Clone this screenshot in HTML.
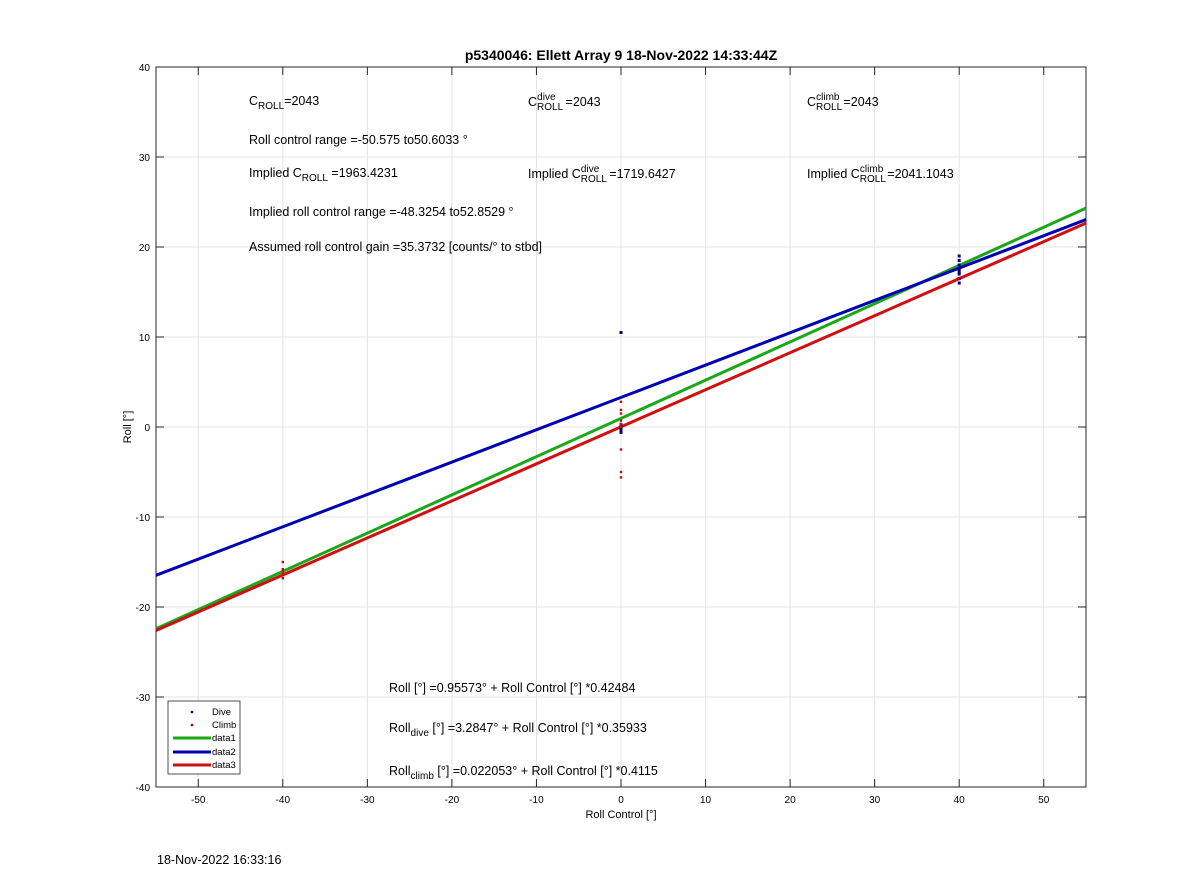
<!DOCTYPE html>
<html><head><meta charset="utf-8"><style>
body{margin:0;background:#fff;}
svg{display:block;font-family:"Liberation Sans",Arial,sans-serif;}
</style></head><body>
<svg id="c" width="1200" height="885" viewBox="0 0 1200 885">
<rect x="0" y="0" width="1200" height="885" fill="#fff"/>
<g id="grid"></g>
<rect x="156" y="67" width="930" height="720" fill="none" stroke="#262626" stroke-width="1"/>
<g id="ticks"></g>
<g id="marks"></g>
<text x="621" y="60" text-anchor="middle" font-size="14" font-weight="bold">p5340046: Ellett Array 9 18-Nov-2022 14:33:44Z</text>
<text x="621" y="818" text-anchor="middle" font-size="11">Roll Control [°]</text>
<text transform="translate(131,427) rotate(-90)" text-anchor="middle" font-size="11">Roll [°]</text>
<g font-size="12.5">
<text x="249" y="105">C<tspan font-size="10" dy="4">ROLL</tspan><tspan dy="-4">=2043</tspan></text>
<text x="528" y="106">C<tspan font-size="10" dy="4">ROLL</tspan><tspan font-size="10" dx="-26" dy="-10">dive</tspan><tspan dx="10" dy="6">=2043</tspan></text>
<text x="807" y="106">C<tspan font-size="10" dy="4">ROLL</tspan><tspan font-size="10" dx="-26" dy="-10">climb</tspan><tspan dx="4" dy="6">=2043</tspan></text>
<text x="249" y="144">Roll control range =-50.575 to50.6033 °</text>
<text x="249" y="177">Implied C<tspan font-size="10" dy="4">ROLL</tspan><tspan dy="-4"> =1963.4231</tspan></text>
<text x="528" y="178">Implied C<tspan font-size="10" dy="4">ROLL</tspan><tspan font-size="10" dx="-26" dy="-10">dive</tspan><tspan dx="10" dy="6">=1719.6427</tspan></text>
<text x="807" y="178">Implied C<tspan font-size="10" dy="4">ROLL</tspan><tspan font-size="10" dx="-26" dy="-10">climb</tspan><tspan dx="4" dy="6">=2041.1043</tspan></text>
<text x="249" y="216">Implied roll control range =-48.3254 to52.8529 °</text>
<text x="249" y="251">Assumed roll control gain =35.3732 [counts/° to stbd]</text>
<text x="389" y="692">Roll [°] =0.95573° + Roll Control [°] *0.42484</text>
<text x="389" y="732">Roll<tspan font-size="10" dy="4">dive</tspan><tspan dy="-4"> [°] =3.2847° + Roll Control [°] *0.35933</tspan></text>
<text x="389" y="775">Roll<tspan font-size="10" dy="4">climb</tspan><tspan dy="-4"> [°] =0.022053° + Roll Control [°] *0.4115</tspan></text>
</g>
<g>
<rect x="168" y="701" width="72" height="73" fill="#fff" stroke="#262626" stroke-width="0.8"/>
<circle cx="192" cy="712" r="1.3" fill="#00007f"/><text x="212" y="715" font-size="9.5">Dive</text>
<circle cx="192" cy="725" r="1.3" fill="#a00000"/><text x="212" y="728" font-size="9.5">Climb</text>
<line x1="173" y1="738" x2="211" y2="738" stroke="#1aa81a" stroke-width="3"/><text x="212" y="741" font-size="9.5">data1</text>
<line x1="173" y1="752" x2="211" y2="752" stroke="#0000b4" stroke-width="3"/><text x="212" y="755" font-size="9.5">data2</text>
<line x1="173" y1="765" x2="211" y2="765" stroke="#d01010" stroke-width="3"/><text x="212" y="768" font-size="9.5">data3</text>
</g>
<text x="157" y="864" font-size="12.5">18-Nov-2022 16:33:16</text>
</svg>
<script>
const xTicks=[-50,-40,-30,-20,-10,0,10,20,30,40,50];
const yTicks=[-40,-30,-20,-10,0,10,20,30,40];
const fitNames=["data1","data2","data3"];
const fitIntercepts=[0.95573,3.2847,0.022053];
const fitSlopes=[0.42484,0.35933,0.4115];
const diveX=[0,0,0,0,0,0,0,40,40,40,40,40,40,40,40];
const diveY=[10.5,0.3,0,-0.2,-0.4,-0.6,0.1,16,16.5,17,17.5,18,18.5,19,17.2];
const climbX=[0,0,0,0,0,0,0,0,0,-40,-40,-40,-40,-40,40];
const climbY=[2.8,1.9,1.5,0.7,0.3,0,-2.5,-5,-5.6,-15,-15.8,-16.3,-16.8,-16,16.5];
const X0=-55,X1=55,Y0=-40,Y1=40,L=156,R=1086,T=67,B=787;
const sx=v=>L+(v-X0)/(X1-X0)*(R-L);
const sy=v=>B-(v-Y0)/(Y1-Y0)*(B-T);
const NS="http://www.w3.org/2000/svg";
function mk(p,tag,a){const e=document.createElementNS(NS,tag);for(const k in a)e.setAttribute(k,a[k]);p.appendChild(e);return e;}
const grid=document.getElementById('grid'),ticks=document.getElementById('ticks'),marks=document.getElementById('marks');
xTicks.forEach(v=>{const x=sx(v);
const g=mk(grid,'line',{x1:x,x2:x,y1:T,y2:B,stroke:'#e3e3e3','stroke-width':1});


mk(ticks,'line',{x1:x,x2:x,y1:B,y2:B-8,stroke:'#262626'});
mk(ticks,'line',{x1:x,x2:x,y1:T,y2:T+8,stroke:'#262626'});
const t=mk(ticks,'text',{x:x,y:B+16,'text-anchor':'middle','font-size':10});t.textContent=v;

});
yTicks.forEach(v=>{const y=sy(v);
const g=mk(grid,'line',{x1:L,x2:R,y1:y,y2:y,stroke:'#e3e3e3','stroke-width':1});


mk(ticks,'line',{x1:L,x2:L+8,y1:y,y2:y,stroke:'#262626'});
mk(ticks,'line',{x1:R,x2:R-8,y1:y,y2:y,stroke:'#262626'});
const t=mk(ticks,'text',{x:L-6,y:y+4,'text-anchor':'end','font-size':10});t.textContent=v;

});
const colors=['#1aa81a','#0000b4','#d01010'];
fitNames.forEach((n,i)=>{const f=x=>fitIntercepts[i]+fitSlopes[i]*x;
const l=mk(marks,'line',{x1:sx(X0),y1:sy(f(X0)),x2:sx(X1),y2:sy(f(X1)),stroke:colors[i],'stroke-width':3});

});
diveX.forEach((x,i)=>{const c=mk(marks,'rect',{x:sx(x)-1.5,y:sy(diveY[i])-1.5,width:3,height:3,fill:'#00007f'});

});
climbX.forEach((x,i)=>{const c=mk(marks,'rect',{x:sx(x)-1.2,y:sy(climbY[i])-1.2,width:2.4,height:2.4,fill:'#c01010'});

});
</script>
</body></html>
